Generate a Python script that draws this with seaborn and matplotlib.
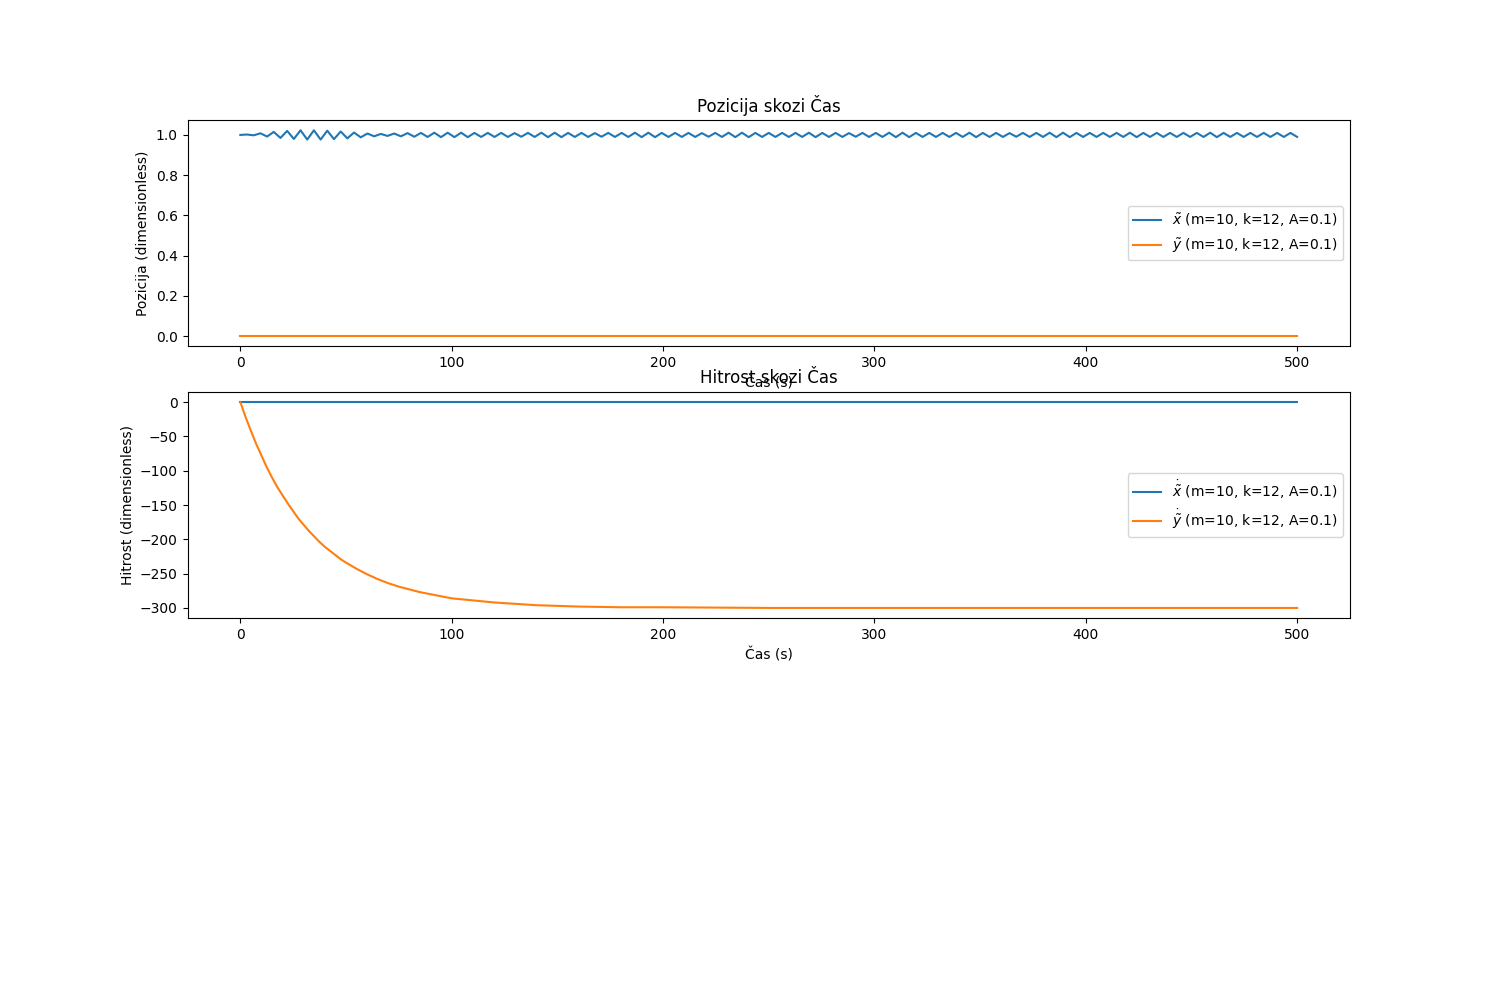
import numpy as np
import pandas as pd
import seaborn as sns
import matplotlib.pyplot as plt

# position x oscillates around 1.0; amplitude of each cycle
x_center = 1.0
x_amp = [
    0.002, 0.008, 0.015, 0.020, 0.023, 0.023, 0.021, 0.017, 0.012, 0.007,
    0.005, 0.007, 0.009, 0.010, 0.011, 0.011, 0.011, 0.010, 0.010, 0.010,
    0.009, 0.010, 0.011, 0.011, 0.010, 0.010, 0.009, 0.010, 0.010, 0.011,
    0.011, 0.010, 0.010, 0.010, 0.009, 0.010, 0.011, 0.011, 0.010, 0.010,
    0.010, 0.010, 0.011, 0.010, 0.010, 0.009, 0.010, 0.010, 0.011, 0.011,
    0.010, 0.010, 0.010, 0.010, 0.011, 0.010, 0.010, 0.009, 0.010, 0.010,
    0.011, 0.011, 0.010, 0.010, 0.010, 0.010, 0.011, 0.010, 0.010, 0.010,
    0.010, 0.010, 0.011, 0.010, 0.010, 0.010, 0.010, 0.010, 0.010,
]

# y position stays at 0
ypos_t = [0, 500]
ypos_v = [0.0, 0.0]

# velocity in x stays at 0
xvel_t = [0, 500]
xvel_v = [0.0, 0.0]

# velocity in y drops towards -300
yvel_t = [0, 2.5, 5, 7.5, 10, 12.5, 15, 17.5, 20, 22.5, 25, 27.5, 30, 32.5,
          35, 37.5, 40, 42.5, 45, 47.5, 50, 55, 60, 65, 70, 75, 80, 85, 90,
          95, 100, 110, 120, 130, 140, 150, 160, 180, 200, 250, 300, 400, 500]
yvel_v = [0, -22, -42, -61, -78, -95, -110, -124, -136, -148, -159, -170,
          -179, -188, -196, -204, -211, -217, -223, -229, -234, -243, -251,
          -258, -264, -269, -273, -277, -280, -283, -286, -289, -292, -294,
          -296, -297, -298, -299, -299, -300, -300, -300, -300]

lbl = " (m=10, k=12, A=0.1)"

xpos_v = [x_center]
for a in x_amp:
    xpos_v += [x_center + a, x_center - a]
xpos = pd.DataFrame({"t": np.linspace(0, 500, len(xpos_v)), "v": xpos_v})

fig, axes = plt.subplots(3, 1, figsize=(15, 10))
ax1, ax2 = axes[0], axes[1]
axes[2].remove()

sns.lineplot(data=xpos, x="t", y="v", ax=ax1, color="C0", label=r"$\tilde{x}$" + lbl)
sns.lineplot(x=ypos_t, y=ypos_v, ax=ax1, color="C1", label=r"$\tilde{y}$" + lbl)
ax1.set_title("Pozicija skozi Čas")
ax1.set_xlabel("Čas (s)")
ax1.set_ylabel("Pozicija (dimensionless)")
ax1.legend(loc="center right")

sns.lineplot(x=xvel_t, y=xvel_v, ax=ax2, color="C0", label=r"$\dot{\tilde{x}}$" + lbl)
sns.lineplot(x=yvel_t, y=yvel_v, ax=ax2, color="C1", label=r"$\dot{\tilde{y}}$" + lbl)
ax2.set_title("Hitrost skozi Čas")
ax2.set_xlabel("Čas (s)")
ax2.set_ylabel("Hitrost (dimensionless)")
ax2.legend(loc="center right")

fig.savefig("out.png", dpi=100)
